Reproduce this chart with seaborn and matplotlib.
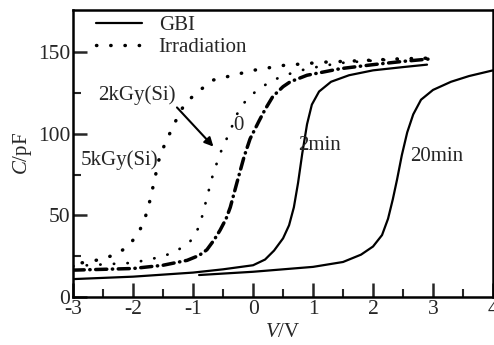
import matplotlib
matplotlib.use("Agg")
import matplotlib.pyplot as plt
import seaborn as sns
import pandas as pd

# GBI (solid) curves
V_2min = [-3, -2, -1, -0.5, 0, 0.2, 0.35, 0.5, 0.6, 0.68, 0.75, 0.82, 0.9, 0.98, 1.1, 1.3, 1.6, 2.0, 2.5, 2.9]
C_2min = [11, 12.5, 15, 17, 19.5, 23, 28.5, 36, 44, 55, 70, 88, 106, 118, 126, 132, 136, 139, 141, 142.5]
V_20min = [-0.9, 0, 1, 1.5, 1.8, 2.0, 2.15, 2.25, 2.33, 2.4, 2.48, 2.57, 2.67, 2.8, 3.0, 3.3, 3.6, 4.0]
C_20min = [13.5, 15.5, 18.5, 21.5, 26, 31, 38, 48, 60, 72, 87, 101, 112, 121, 127, 132, 135.5, 139]

# Irradiation (dotted) curves
V_0 = [-3, -2.5, -2, -1.5, -1.1, -0.9, -0.77, -0.65, -0.55, -0.45, -0.38, -0.27, -0.15, -0.05, 0.1, 0.2, 0.33, 0.5, 0.62, 0.9, 1.45, 2.0, 2.5, 2.95]
C_0 = [16.5, 17, 17.5, 19.5, 22.5, 25.5, 29, 35, 41, 48, 55, 70, 86, 97, 108, 115, 123, 129, 132, 136, 140, 142.5, 144.5, 146]
V_2k = [-3, -2.5, -2, -1.55, -1.3, -1.05, -0.9, -0.83, -0.77, -0.67, -0.55, -0.38, -0.27, -0.13, 0.07, 0.33, 0.62, 0.9, 1.45, 2.0, 2.5, 2.9]
C_2k = [19, 20, 21, 24.5, 27.6, 34, 43, 52, 61, 75, 88, 102, 112, 120, 127, 133, 137, 140, 143.5, 145, 146, 146.5]
V_5k = [-2.85, -2.55, -2.3, -2.08, -1.9, -1.8, -1.73, -1.68, -1.63, -1.57, -1.48, -1.38, -1.25, -1.13, -0.88, -0.67, -0.22, 0, 0.5, 1.17, 1.83, 2.4, 2.95]
C_5k = [21, 23, 26, 31, 40, 48.5, 57.6, 65.6, 74, 84, 93, 101, 111, 119, 127, 133, 137, 139, 142, 144, 145, 146, 146.5]

x_ticks = [-3, -2, -1, 0, 1, 2, 3, 4]
y_ticks = [0, 50, 100, 150]

sns.set_style("ticks")
plt.rcParams['font.family'] = ['Liberation Serif', 'DejaVu Serif']
plt.rcParams['mathtext.fontset'] = 'custom'
plt.rcParams['mathtext.rm'] = 'Liberation Serif'
plt.rcParams['mathtext.it'] = 'Liberation Serif:italic'

fig = plt.figure(figsize=(4.94, 3.45), dpi=100)
ax = fig.add_axes([0.148, 0.139, 0.85, 0.832])

FS = 15
TFS = 15.5
dot = (0, (0.1, 4.0))
sns.lineplot(x=V_2min, y=C_2min, ax=ax, color='black', lw=1.6, label='GBI', sort=False)
sns.lineplot(x=V_20min, y=C_20min, ax=ax, color='black', lw=1.6, sort=False)
sns.lineplot(x=V_5k, y=C_5k, ax=ax, color='black', lw=2.5, sort=False, label='Irradiation')
sns.lineplot(x=V_2k, y=C_2k, ax=ax, color='black', lw=2.0, sort=False)
sns.lineplot(x=V_0, y=C_0, ax=ax, color='black', lw=2.5, sort=False)

lines = ax.get_lines()
for ln in lines[2:4]:
    ln.set_linestyle(dot)
    ln.set_dash_capstyle('round')
lines[3].set_linestyle((0, (0.1, 4.8)))
lines[4].set_linestyle((0, (3.2, 1.6, 0.1, 1.6)))
lines[4].set_dash_capstyle('round')

ax.set_xlim(-3, 4)
ax.set_ylim(0, 176)
ax.set_xticks(x_ticks)
ax.set_xticklabels([str(t) for t in x_ticks])
ax.set_yticks(y_ticks)
ax.set_xticks([-2.5, -1.5, -0.5, 0.5, 1.5, 2.5, 3.5], minor=True)
ax.set_yticks([25, 75, 125], minor=True)
ax.tick_params(which='major', direction='in', length=10, width=1.8, labelsize=TFS, pad=2)
ax.tick_params(which='minor', direction='in', length=6, width=1.5)
for s in ax.spines.values():
    s.set_linewidth(1.8)
    s.set_color('black')

ax.set_xlabel(r"$V$/V", fontsize=FS, labelpad=3)
ax.set_ylabel(r"$C$/pF", fontsize=FS, labelpad=3)

leg = ax.legend(loc='upper left', bbox_to_anchor=(0.055, 0.98), frameon=False,
                fontsize=FS, handlelength=2.2, handletextpad=0.8, labelspacing=0.1,
                borderpad=0, borderaxespad=0)
lh = leg.get_lines()
lh[1].set_linestyle(dot)
lh[1].set_dash_capstyle('round')

ax.text(-2.58, 124, "2kGy(Si)", fontsize=FS, va='center', ha='left')
ax.text(-2.88, 84, "5kGy(Si)", fontsize=FS, va='center', ha='left')
ax.text(-0.33, 105, "0", fontsize=FS, va='center', ha='left')
ax.text(0.75, 93, "2min", fontsize=FS, va='center', ha='left')
ax.text(2.62, 86, "20min", fontsize=FS, va='center', ha='left')
ax.annotate("", xy=(-0.63, 91), xytext=(-1.3, 117.5),
            arrowprops=dict(arrowstyle='-|>', color='black', lw=1.5, mutation_scale=13))

fig.savefig("out.png", dpi=100)
